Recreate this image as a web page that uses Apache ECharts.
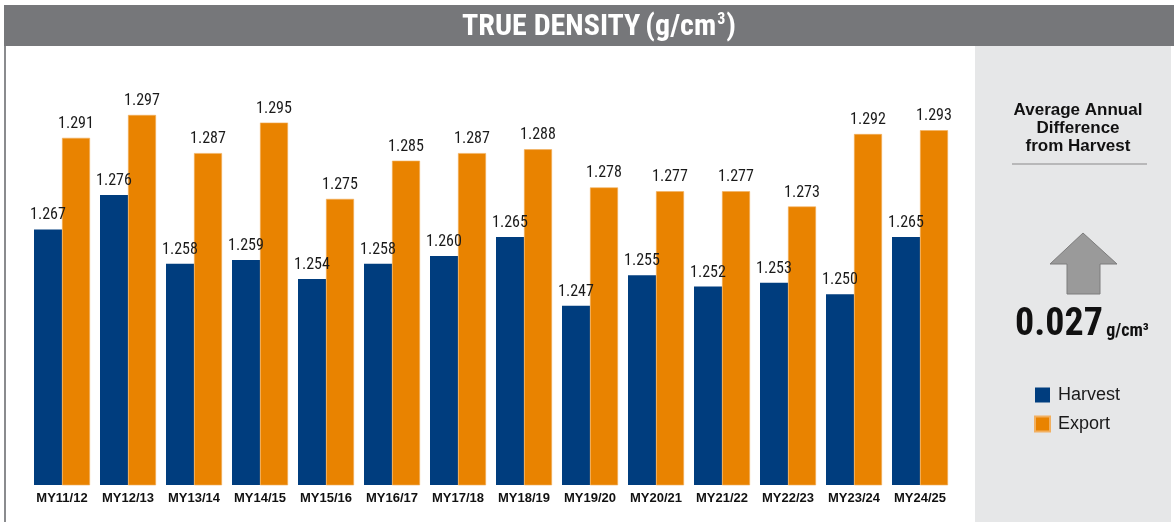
<!DOCTYPE html>
<html>
<head>
<meta charset="utf-8">
<script src="https://cdn.jsdelivr.net/npm/echarts@6/dist/echarts.min.js"></script>
<style>
  html, body { margin: 0; padding: 0; background: #ffffff; }
  #chart { width: 1174px; height: 522px; }
</style>
</head>
<body>
<div id="chart"></div>
<script>
// Marketing years
const categories = ['MY11/12', 'MY12/13', 'MY13/14', 'MY14/15', 'MY15/16', 'MY16/17', 'MY17/18',
  'MY18/19', 'MY19/20', 'MY20/21', 'MY21/22', 'MY22/23', 'MY23/24', 'MY24/25'];

// True density, g/cm³
const harvest = [1.267, 1.276, 1.258, 1.259, 1.254, 1.258, 1.260, 1.265, 1.247, 1.255, 1.252, 1.253, 1.250, 1.265];
const exportVals = [1.291, 1.297, 1.287, 1.295, 1.275, 1.285, 1.287, 1.288, 1.278, 1.277, 1.277, 1.273, 1.292, 1.293];

const avgDifference = '0.027';

const BLUE = '#003D7E';
const ORANGE = '#E98300';
const NARROW = '"Liberation Sans Narrow", "Arial Narrow", "Roboto Condensed", sans-serif';
const SANS = '"Liberation Sans", Arial, sans-serif';

const chart = echarts.init(document.getElementById('chart'), null, { renderer: 'canvas' });

const labelStyle = {
  show: true,
  position: 'top',
  distance: 6,
  fontFamily: NARROW,
  fontSize: 16,
  color: '#1a1a1a',
  formatter: p => p.value.toFixed(3)
};

chart.setOption({
  animation: false,
  backgroundColor: '#ffffff',
  title: {
    text: '{a|TRUE DENSITY} {b|(g/cm}{s|3}{b|)}',
    left: 594,
    top: 7,
    textAlign: 'center',
    textStyle: {
      rich: {
        a: { fontFamily: NARROW, fontSize: 30, color: '#ffffff', fontWeight: 'bold' },
        b: { fontFamily: NARROW, fontSize: 30, color: '#ffffff' },
        s: { fontFamily: NARROW, fontSize: 16, color: '#ffffff', verticalAlign: 'top', padding: [0, 1, 13, 1] }
      }
    }
  },
  graphic: [
    { type: 'rect', z: -10, shape: { x: 4, y: 5, width: 1170, height: 41 }, style: { fill: '#76777A' } },
    { type: 'rect', z: -10, shape: { x: 4, y: 46, width: 2, height: 476 }, style: { fill: '#8a8b8e' } },
    { type: 'rect', z: -10, shape: { x: 975, y: 46, width: 196, height: 476 }, style: { fill: '#E6E7E8' } },
    {
      type: 'text', z: 5,
      style: {
        text: 'Average Annual\nDifference\nfrom Harvest',
        x: 1078, y: 101, textAlign: 'center',
        fontFamily: SANS, fontWeight: 'bold', fontSize: 17, lineHeight: 18, fill: '#111111'
      }
    },
    { type: 'line', z: 5, shape: { x1: 1012, y1: 164, x2: 1147, y2: 164 }, style: { stroke: '#8a8a8a', lineWidth: 1.2 } },
    {
      type: 'polygon', z: 5,
      shape: { points: [[1083, 233], [1117, 264], [1100, 264], [1100, 294], [1067, 294], [1067, 264], [1050, 264]] },
      style: { fill: '#9A9A9A', stroke: '#7d7d7d', lineWidth: 1 }
    },
    {
      type: 'text', z: 5,
      style: {
        text: '{n|' + avgDifference + '} {u|g/cm³}',
        x: 1015, y: 306,
        rich: {
          n: { fontFamily: NARROW, fontWeight: 'bold', fontSize: 38, fill: '#111111' },
          u: { fontFamily: NARROW, fontWeight: 'bold', fontSize: 18, fill: '#111111', verticalAlign: 'bottom', padding: [0, 0, 4, 0] }
        }
      }
    }
  ],
  legend: {
    orient: 'vertical',
    left: 1034,
    top: 386,
    padding: 0,
    itemWidth: 15,
    itemHeight: 15,
    itemGap: 11,
    icon: 'rect',
    textStyle: { fontFamily: SANS, fontSize: 18, color: '#1a1a1a', padding: [0, 0, 0, 3] },
    data: ['Harvest', 'Export']
  },
  grid: { left: 29, right: 221, top: 103.5, bottom: 37, containLabel: false },
  xAxis: {
    type: 'category',
    data: categories,
    axisLine: { show: false },
    axisTick: { show: false },
    axisLabel: {
      interval: 0,
      margin: 7,
      fontFamily: SANS,
      fontWeight: 'bold',
      fontSize: 13,
      color: '#111111'
    }
  },
  yAxis: {
    type: 'value',
    min: 1.2,
    max: 1.3,
    show: false,
    splitLine: { show: false }
  },
  series: [
    {
      name: 'Harvest',
      type: 'bar',
      data: harvest,
      barWidth: 28,
      barGap: '0%',
      itemStyle: { color: BLUE },
      label: labelStyle
    },
    {
      name: 'Export',
      type: 'bar',
      data: exportVals,
      barWidth: 28,
      barGap: '0%',
      itemStyle: { color: ORANGE, borderColor: '#F2B060', borderWidth: 0.6 },
      label: labelStyle
    }
  ]
});
</script>
</body>
</html>
